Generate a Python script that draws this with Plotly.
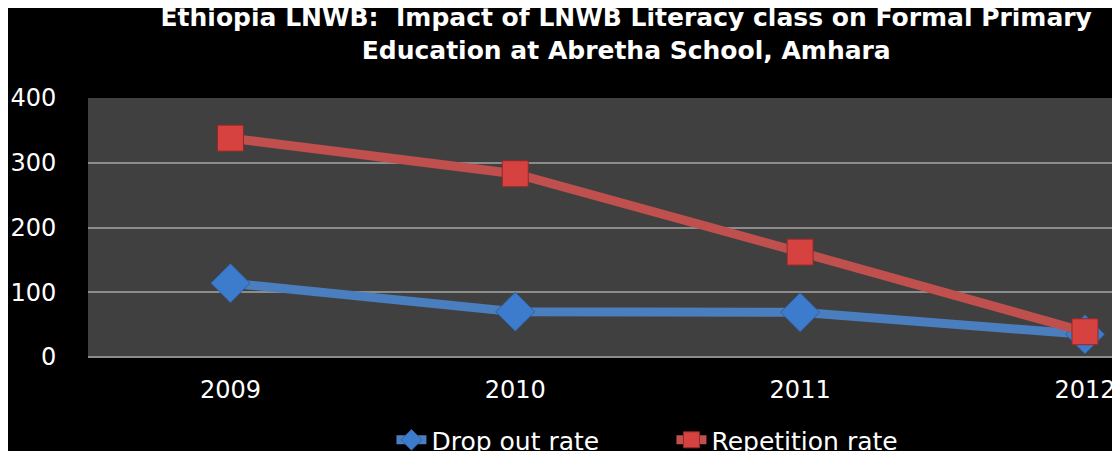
import plotly.graph_objects as go

years = ["2009", "2010", "2011", "2012"]
drop_out = [114, 70, 69, 35]
repetition = [338, 283, 162, 39]
y_ticks = [0, 100, 200, 300, 400]

title_text = ("Ethiopia LNWB:  Impact of LNWB Literacy class on Formal Primary"
              "<br>Education at Abretha School, Amhara")

fig = go.Figure()

fig.add_trace(go.Scatter(
    x=years, y=drop_out, name="Drop out rate",
    mode="lines+markers",
    line=dict(color="#4a7ebf", width=9),
    marker=dict(symbol="diamond", size=30, color="#3d7ccc",
                line=dict(color="#2f5f9e", width=1)),
))
fig.add_trace(go.Scatter(
    x=years, y=repetition, name="Repetition rate",
    mode="lines+markers",
    line=dict(color="#c0504d", width=9),
    marker=dict(symbol="square", size=26, color="#d6423f",
                line=dict(color="#8e2a28", width=1)),
))

fig.update_layout(
    width=1120, height=451,
    margin=dict(l=80, r=0, t=90, b=102),
    paper_bgcolor="black",
    plot_bgcolor="#404040",
    title=dict(text=title_text, x=0.552, xanchor="center", y=0.96, yanchor="top",
               font=dict(family="DejaVu Sans", size=25, color="white", weight="bold")),
    font=dict(family="DejaVu Sans", color="white"),
    showlegend=True,
    legend=dict(orientation="h", xref="paper", x=0.561, xanchor="center",
                yref="container", y=0.042, yanchor="middle",
                font=dict(size=25, color="white"), bgcolor="rgba(0,0,0,0)",
                entrywidth=235),
)

fig.update_xaxes(
    type="category", range=[-0.5, 3.151],
    showgrid=False, showline=False, zeroline=False,
    ticks="outside", ticklen=11, tickcolor="black",
    tickfont=dict(size=24, color="white"),
)
fig.update_yaxes(
    range=[0, 400], tickvals=y_ticks,
    showgrid=True, gridcolor="#8c8c8c", gridwidth=1.5,
    zeroline=True, zerolinecolor="#8c8c8c", zerolinewidth=1.5,
    showline=False,
    ticks="outside", ticklen=26, tickcolor="black",
    tickfont=dict(size=24, color="white"),
)

fig.write_html("out.html")
